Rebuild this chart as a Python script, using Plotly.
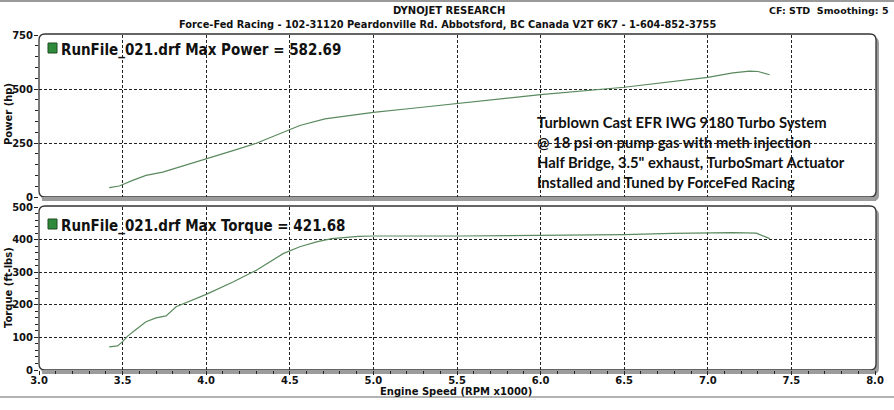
import plotly.graph_objects as go

# ---------------- data ----------------
rpm_power = [3.42, 3.48, 3.56, 3.64, 3.74, 3.84, 4.00, 4.16, 4.30, 4.46, 4.56, 4.71,
             4.85, 5.00, 5.25, 5.45, 5.50, 6.00, 6.50, 7.00, 7.15, 7.25, 7.30, 7.37]
power_hp = [43, 51, 77, 100, 115, 138, 177, 215, 249, 300, 331, 362,
            377, 392, 412, 429, 434, 474, 508, 554, 575, 582.69, 581, 566]

rpm_torque = [3.42, 3.47, 3.50, 3.53, 3.58, 3.64, 3.70, 3.76, 3.82, 3.92, 4.00, 4.16,
              4.30, 4.46, 4.56, 4.66, 4.75, 4.91, 5.00, 5.50, 6.00, 6.50, 6.79, 7.00,
              7.15, 7.29, 7.37]
torque_ftlb = [71, 74, 87, 104, 124, 148, 160, 166, 194, 214, 232, 270,
               306, 357, 378, 393, 403, 410, 411, 411, 412, 415, 419, 420,
               421.68, 420, 403]

x_ticks = [3.0, 3.5, 4.0, 4.5, 5.0, 5.5, 6.0, 6.5, 7.0, 7.5, 8.0]
power_ticks = [0, 250, 500, 750]
torque_ticks = [0, 100, 200, 300, 400, 500]

title = "DYNOJET RESEARCH"
subtitle = "Force-Fed Racing - 102-31120 Peardonville Rd. Abbotsford, BC Canada V2T 6K7 - 1-604-852-3755"
corner = "CF: STD&nbsp;&nbsp;Smoothing: 5"
power_label = "RunFile_021.drf Max Power = 582.69"
torque_label = "RunFile_021.drf Max Torque = 421.68"
note_lines = ["Turblown Cast EFR IWG 9180 Turbo System",
              "@ 18 psi on pump gas with meth injection",
              "Half Bridge, 3.5\" exhaust, TurboSmart Actuator",
              "Installed and Tuned by ForceFed Racing"]

# ---------------- layout geometry ----------------
W, H = 894, 410
L, R, T, B = 39, 19, 35, 40
PW, PH = W - L - R, H - T - B


def px(x):
    return (x - L) / PW


def py(y):
    return 1 - (y - T) / PH


top_dom = [py(197), py(35)]
bot_dom = [py(370), py(207)]

LINE = "#5a8a5e"
tickfont = dict(family="DejaVu Sans", size=10, color="#111", weight="bold")

fig = go.Figure()
fig.add_trace(go.Scatter(x=rpm_power, y=power_hp, mode="lines",
                         line=dict(color=LINE, width=1.2), xaxis="x", yaxis="y",
                         showlegend=False, hoverinfo="skip"))
fig.add_trace(go.Scatter(x=rpm_torque, y=torque_ftlb, mode="lines",
                         line=dict(color=LINE, width=1.2), xaxis="x2", yaxis="y2",
                         showlegend=False, hoverinfo="skip"))

grid = dict(showgrid=True, gridcolor="#222", gridwidth=1, griddash="3px,2px", zeroline=False,
            automargin=False)


def rounded(x0, y0, x1, y1, r):
    rx, ry = r / PW, r / PH
    X0, X1 = px(x0), px(x1)
    Y0, Y1 = py(y0), py(y1)  # Y0 top (bigger), Y1 bottom
    return (f"M {X0+rx},{Y0} L {X1-rx},{Y0} Q {X1},{Y0} {X1},{Y0-ry} "
            f"L {X1},{Y1+ry} Q {X1},{Y1} {X1-rx},{Y1} L {X0+rx},{Y1} "
            f"Q {X0},{Y1} {X0},{Y1+ry} L {X0},{Y0-ry} Q {X0},{Y0} {X0+rx},{Y0} Z")


shapes = []
for (top, bot) in [(34, 197), (206, 370)]:
    shapes.append(dict(type="path", path=rounded(41, top + 3, 879, bot + 4, 6),
                       xref="paper", yref="paper", fillcolor="#9c9c9c",
                       line=dict(width=0), layer="below"))
    shapes.append(dict(type="path", path=rounded(39, top, 876, bot, 6),
                       xref="paper", yref="paper", fillcolor="white",
                       line=dict(color="#333", width=1.3), layer="below"))
    shapes.append(dict(type="rect", x0=px(42), x1=px(876), y0=py(bot), y1=py(bot + 4),
                       xref="paper", yref="paper", fillcolor="#9c9c9c",
                       line=dict(width=0), layer="below"))

# header / footer lines
shapes.append(dict(type="line", x0=px(0), x1=px(W), y0=py(1), y1=py(1), xref="paper", yref="paper",
                   line=dict(color="#9a9a9a", width=2)))
shapes.append(dict(type="line", x0=px(0), x1=px(W), y0=py(397), y1=py(397), xref="paper", yref="paper",
                   line=dict(color="#9a9a9a", width=1.5)))
# legend squares
for (y0, y1) in [(43, 53), (219, 229)]:
    shapes.append(dict(type="rect", x0=px(48), x1=px(57), y0=py(y1), y1=py(y0), xref="paper", yref="paper",
                       fillcolor="#2f8a3a", line=dict(color="#1d4d22", width=1)))

hdr = dict(family="DejaVu Sans", size=10, color="#111")
ann = []
ann.append(dict(text=f"<b>{title}</b>", x=px(449), y=py(10), xref="paper", yref="paper",
                showarrow=False, font=hdr, xanchor="center", yanchor="middle"))
ann.append(dict(text=f"<b>{subtitle}</b>", x=px(447), y=py(25), xref="paper", yref="paper",
                showarrow=False, font=dict(family="DejaVu Sans", size=9.8, color="#111"),
                xanchor="center", yanchor="middle"))
ann.append(dict(text=f"<b>{corner}</b>", x=px(891), y=py(10), xref="paper", yref="paper",
                showarrow=False, font=dict(family="DejaVu Sans", size=9.5, color="#111"),
                xanchor="right", yanchor="middle"))
ann.append(dict(text=f"<b>{power_label}</b>", x=px(59), y=py(50), xref="paper", yref="paper",
                showarrow=False, font=dict(family="DejaVu Sans Condensed, DejaVu Sans", size=15, color="#111"),
                xanchor="left", yanchor="middle"))
ann.append(dict(text=f"<b>{torque_label}</b>", x=px(59), y=py(226), xref="paper", yref="paper",
                showarrow=False, font=dict(family="DejaVu Sans Condensed, DejaVu Sans", size=15, color="#111"),
                xanchor="left", yanchor="middle"))
for i, line in enumerate(note_lines):
    ann.append(dict(text=f"<b>{line}</b>", x=px(535), y=py(122 + 20 * i), xref="paper", yref="paper",
                    showarrow=False, font=dict(family="Lato", size=14.8, color="#111"),
                    xanchor="left", yanchor="middle"))
ann.append(dict(text="<b>Power (hp)</b>", x=px(8), y=py(114), xref="paper", yref="paper",
                showarrow=False, textangle=-90, font=hdr, xanchor="center", yanchor="middle"))
ann.append(dict(text="<b>Torque (ft-lbs)</b>", x=px(8), y=py(288), xref="paper", yref="paper",
                showarrow=False, textangle=-90, font=hdr, xanchor="center", yanchor="middle"))
ann.append(dict(text="<b>Engine Speed (RPM x1000)</b>", x=px(456), y=py(391), xref="paper", yref="paper",
                showarrow=False, font=hdr, xanchor="center", yanchor="middle"))

fig.update_layout(
    width=W, height=H, margin=dict(l=L, r=R, t=T, b=B, autoexpand=False),
    paper_bgcolor="white", plot_bgcolor="rgba(0,0,0,0)",
    shapes=shapes, annotations=ann,
    xaxis=dict(domain=[0, 1], anchor="y", range=[3.0, 8.0], tickvals=x_ticks,
               showticklabels=False, ticks="", **grid),
    yaxis=dict(domain=top_dom, anchor="x", range=[0, 750], tickvals=power_ticks,
               ticks="outside", ticklen=4, tickcolor="#222", showline=False,
               minor=dict(dtick=50, ticks="outside", ticklen=3, tickcolor="#222", showgrid=False),
               tickfont=tickfont, ticklabelstandoff=-1, **grid),
    xaxis2=dict(domain=[0, 1], anchor="y2", range=[3.0, 8.0], tickvals=x_ticks,
                ticktext=[f"{v:.1f}" for v in x_ticks],
                ticks="outside", ticklen=4, tickcolor="#222",
                minor=dict(dtick=0.1, ticks="outside", ticklen=3, tickcolor="#222", showgrid=False),
                tickfont=tickfont, ticklabelstandoff=-3, **grid),
    yaxis2=dict(domain=bot_dom, anchor="x2", range=[0, 500], tickvals=torque_ticks,
                ticks="outside", ticklen=4, tickcolor="#222",
                minor=dict(dtick=20, ticks="outside", ticklen=3, tickcolor="#222", showgrid=False),
                tickfont=tickfont, ticklabelstandoff=-1, **grid),
)

fig.write_html("out.html", config={"displayModeBar": False},
               post_script="document.body.style.margin='0';document.body.style.padding='0';")
